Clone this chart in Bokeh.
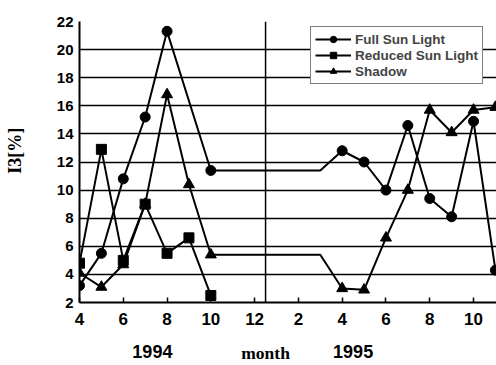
from bokeh.plotting import figure
from bokeh.models import FixedTicker, Span, Legend, LegendItem, Range1d, LinearAxis
from bokeh.embed import file_html
from bokeh.resources import INLINE

# ---- data ----
x_ticks = [4, 6, 8, 10, 12, 14, 16, 18, 20, 22]
x_tick_labels = ["4", "6", "8", "10", "12", "2", "4", "6", "8", "10"]
y_ticks = [2, 4, 6, 8, 10, 12, 14, 16, 18, 20, 22]
year_pos = [7.33, 16.5]
year_labels = ["1994", "1995"]
month_pos = [12.5]
month_label = ["month"]
ylabel_pos = [12.8]
ylabel_text = ["I3[%]"]

full_x = [4, 5, 6, 7, 8, 10, 16, 17, 18, 19, 20, 21, 22, 23]
full_y = [3.2, 5.5, 10.8, 15.2, 21.3, 11.4, 12.8, 12.0, 10.0, 14.6, 9.4, 8.1, 14.9, 4.3]

reduced_x = [4, 5, 6, 7, 8, 9, 10]
reduced_y = [4.8, 12.9, 5.0, 9.0, 5.5, 6.6, 2.5]

shadow_x = [4, 5, 6, 7, 8, 9, 10, 16, 17, 18, 19, 20, 21, 22, 23]
shadow_y = [4.1, 3.1, 4.7, 9.0, 16.8, 10.4, 5.4, 3.0, 2.9, 6.6, 10.0, 15.7, 14.1, 15.7, 15.9]

gap_hold_until = 15   # value held flat through the missing months (Nov 94 - Mar 95)
year_break = 12.5
series_names = ["Full Sun Light", "Reduced Sun Light", "Shadow"]


def with_hold(xs, ys, hold):
    lx, ly = [], []
    for i, (a, b) in enumerate(zip(xs, ys)):
        lx.append(a)
        ly.append(b)
        if i + 1 < len(xs) and a < hold < xs[i + 1]:
            lx.append(hold)
            ly.append(b)
    return lx, ly


p = figure(width=496, height=365, output_backend="svg", toolbar_location=None,
           x_range=Range1d(4, 23.05), y_range=Range1d(2, 22),
           min_border_left=79, min_border_right=0, min_border_top=21, min_border_bottom=61)
p.outline_line_color = None
p.background_fill_color = "white"
p.border_fill_color = "white"

# axes
p.xaxis.ticker = FixedTicker(ticks=x_ticks)
p.xaxis.major_label_overrides = {t: l for t, l in zip(x_ticks, x_tick_labels)}
p.yaxis.ticker = FixedTicker(ticks=y_ticks)
for ax in (p.xaxis, p.yaxis):
    ax.axis_line_color = "black"
    ax.axis_line_width = 2
    ax.major_label_text_font = "Liberation Sans"
    ax.major_label_text_font_style = "bold"
    ax.major_label_text_color = "black"
    ax.minor_tick_line_color = None
    ax.major_tick_line_color = "black"
    ax.major_tick_line_width = 1.5
p.xaxis.major_tick_in = 5
p.xaxis.major_tick_out = 0
p.xaxis.major_label_text_font_size = "17px"
p.xaxis.major_label_standoff = 10
p.yaxis.major_tick_in = 0
p.yaxis.major_tick_out = 0
p.yaxis.major_label_text_font_size = "15px"
p.yaxis.major_label_standoff = 6


def text_axis(ticks, labels, standoff, font, size):
    ax = LinearAxis(ticker=FixedTicker(ticks=ticks),
                    major_label_overrides={t: l for t, l in zip(ticks, labels)})
    ax.axis_line_color = None
    ax.major_tick_line_color = None
    ax.minor_tick_line_color = None
    ax.major_tick_in = 0
    ax.major_tick_out = 0
    ax.major_label_standoff = standoff
    ax.major_label_text_font = font
    ax.major_label_text_font_style = "bold"
    ax.major_label_text_font_size = size
    ax.major_label_text_color = "black"
    return ax


p.add_layout(text_axis(month_pos, month_label, 15, "Liberation Serif", "17.5px"), "below")
p.add_layout(text_axis(year_pos, year_labels, -21, "Liberation Sans", "18px"), "below")
yl = text_axis(ylabel_pos, ylabel_text, 28, "Liberation Serif", "18px")
yl.major_label_orientation = "vertical"
p.add_layout(yl, "left")

p.xgrid.grid_line_color = None
p.ygrid.grid_line_color = "black"
p.ygrid.grid_line_width = 1.5

p.add_layout(Span(location=year_break, dimension="height", line_color="black", line_width=1.5))

lw = 2
fx, fy = with_hold(full_x, full_y, gap_hold_until)
sx, sy = with_hold(shadow_x, shadow_y, gap_hold_until)

l_sh = p.line(sx, sy, line_color="black", line_width=lw)
m_sh = p.scatter(shadow_x, shadow_y, marker="triangle", size=11, fill_color="black", line_color="black")
l_rd = p.line(reduced_x, reduced_y, line_color="black", line_width=lw)
m_rd = p.scatter(reduced_x, reduced_y, marker="square", size=10, fill_color="black", line_color="black")
l_fu = p.line(fx, fy, line_color="black", line_width=lw)
m_fu = p.scatter(full_x, full_y, marker="circle", size=10, fill_color="black", line_color="black")

legend = Legend(items=[
    LegendItem(label=series_names[0], renderers=[l_fu, m_fu]),
    LegendItem(label=series_names[1], renderers=[l_rd, m_rd]),
    LegendItem(label=series_names[2], renderers=[l_sh, m_sh]),
], location=(231, 218))
legend.label_text_font = "Liberation Sans"
legend.label_text_font_style = "bold"
legend.label_text_font_size = "13.5px"
legend.border_line_color = "black"
legend.border_line_width = 1.5
legend.background_fill_alpha = 1
legend.padding = 4
legend.spacing = 0
legend.glyph_width = 36
legend.glyph_height = 16
legend.label_height = 16
legend.label_standoff = 4
legend.margin = 0
p.add_layout(legend, "center")

open("out.html", "w").write(file_html(p, INLINE))
